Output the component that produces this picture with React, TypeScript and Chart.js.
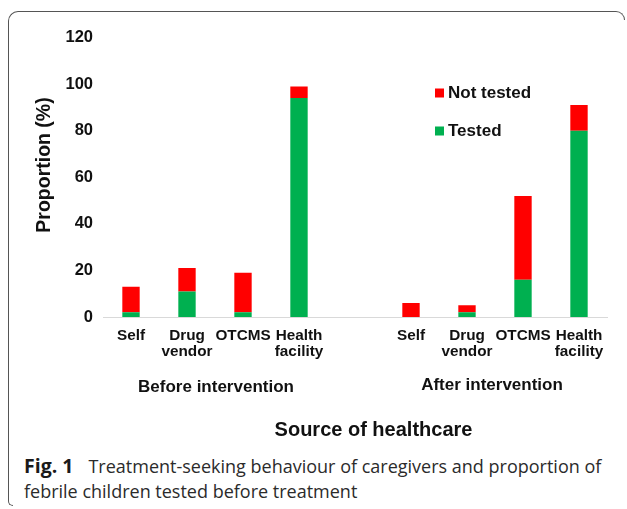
import React, { useEffect, useRef } from "react";
import { Chart, registerables } from "chart.js";

Chart.register(...registerables);

const categories: (string | string[])[] = [
  "Self",
  ["Drug", "vendor"],
  "OTCMS",
  ["Health", "facility"],
  "",
  "Self",
  ["Drug", "vendor"],
  "OTCMS",
  ["Health", "facility"],
];
const testedValues: (number | null)[] = [2, 11, 2, 94, null, 0, 2, 16, 80];
const notTestedValues: (number | null)[] = [11, 10, 17, 5, null, 6, 3, 36, 11];
const groupLabels = ["Before intervention", "After intervention"];
const yTickMax = 120;
const yTickStep = 20;

const FONT = "'Liberation Sans', Arial, sans-serif";

const extraText = {
  id: "extraText",
  afterDraw(chart: any) {
    const ctx = chart.ctx;
    const x = chart.scales.x;
    ctx.save();
    ctx.fillStyle = "#111";
    ctx.textAlign = "center";
    ctx.textBaseline = "middle";
    ctx.font = `bold 17px ${FONT}`;
    const c1 = (x.getPixelForValue(0) + x.getPixelForValue(3)) / 2;
    const c2 = (x.getPixelForValue(5) + x.getPixelForValue(8)) / 2;
    ctx.fillText(groupLabels[0], c1 + 1, 387);
    ctx.fillText(groupLabels[1], c2 - 3, 385.5);
    ctx.font = `bold 20px ${FONT}`;
    ctx.fillText("Source of healthcare", 373.5, 430);

    // y axis title
    ctx.save();
    ctx.translate(45, 165);
    ctx.rotate(-Math.PI / 2);
    ctx.font = `bold 19.5px ${FONT}`;
    ctx.fillText("Proportion (%)", 0, 0);
    ctx.restore();

    // legend (reversed order)
    const ds = chart.data.datasets;
    const items = [ds[1], ds[0]];
    const ys = [93, 131];
    ctx.font = `bold 17px ${FONT}`;
    ctx.textAlign = "left";
    items.forEach((d: any, i: number) => {
      ctx.fillStyle = d.backgroundColor;
      ctx.fillRect(435, ys[i] - 4.5, 9, 9);
      ctx.fillStyle = "#111";
      ctx.fillText(d.label, 448, ys[i]);
    });
    ctx.restore();
  },
};

export default function App() {
  const ref = useRef<HTMLCanvasElement>(null);
  useEffect(() => {
    if (!ref.current) return;
    const chart = new Chart(ref.current, {
      type: "bar",
      data: {
        labels: categories,
        datasets: [
          {
            label: "Tested",
            data: testedValues,
            backgroundColor: "#00B050",
            borderWidth: 0,
          },
          {
            label: "Not tested",
            data: notTestedValues,
            backgroundColor: "#FF0000",
            borderWidth: 0,
          },
        ],
      },
      options: {
        animation: false,
        responsive: false,
        devicePixelRatio: 1,
        layout: { padding: { left: 0, right: 20, top: 37.5, bottom: 0 } },
        datasets: { bar: { categoryPercentage: 1, barPercentage: 0.31 } },
        plugins: { legend: { display: false }, tooltip: { enabled: false } },
        scales: {
          x: {
            stacked: true,
            grid: { display: false, drawTicks: false },
            border: { display: true, color: "#d9d9d9", width: 1 },
            ticks: {
              autoSkip: false,
              maxRotation: 0,
              minRotation: 0,
              padding: 11,
              color: "#111",
              font: { family: FONT, weight: "bold", size: 15.3, lineHeight: 1.03 },
            },
            afterFit: (s: any) => {
              s.height = 450 - 317;
            },
          },
          y: {
            stacked: true,
            min: 0,
            max: yTickMax,
            grid: { display: false, drawTicks: false },
            border: { display: false },
            ticks: {
              stepSize: yTickStep,
              padding: 10,
              color: "#111",
              font: { family: FONT, weight: "bold", size: 16.5 },
            },
            afterFit: (s: any) => {
              s.width = 103;
            },
          },
        },
      },
      plugins: [extraText],
    });
    return () => chart.destroy();
  }, []);

  return (
    <div style={{ position: "absolute", left: 0, top: 0, width: 627, height: 509, background: "#fff" }}>
      <div
        style={{
          position: "absolute",
          left: 8,
          top: 11,
          width: 607,
          height: 489,
          borderTop: "1px solid #555",
          borderLeft: "1px solid #555",
          borderTopLeftRadius: 10,
        }}
      />
      <div
        style={{
          position: "absolute",
          left: 615,
          top: 11,
          width: 9,
          height: 8,
          borderTop: "1px solid #555",
          borderRight: "1px solid #555",
          borderTopRightRadius: 9,
        }}
      />
      <div
        style={{
          position: "absolute",
          left: 8,
          top: 499,
          width: 4,
          height: 6,
          borderLeft: "1px solid #555",
          borderBottom: "1px solid #555",
          borderBottomLeftRadius: 5,
        }}
      />
      <canvas
        ref={ref}
        width={627}
        height={450}
        style={{ position: "absolute", left: 0, top: 0, width: 627, height: 450 }}
      />
      <div
        style={{
          position: "absolute",
          left: 24,
          top: 453,
          width: 600,
          fontFamily: "'Open Sans', sans-serif",
          fontSize: 18,
          lineHeight: "25px",
          color: "#2b2b2b",
          whiteSpace: "nowrap",
        }}
      >
        <div>
          <b style={{ fontWeight: 700, fontSize: 19.5, color: "#1a1a1a", marginRight: 15 }}>Fig. 1</b>
          {"Treatment-seeking behaviour of caregivers and proportion of"}
        </div>
        <div>febrile children tested before treatment</div>
      </div>
    </div>
  );
}
